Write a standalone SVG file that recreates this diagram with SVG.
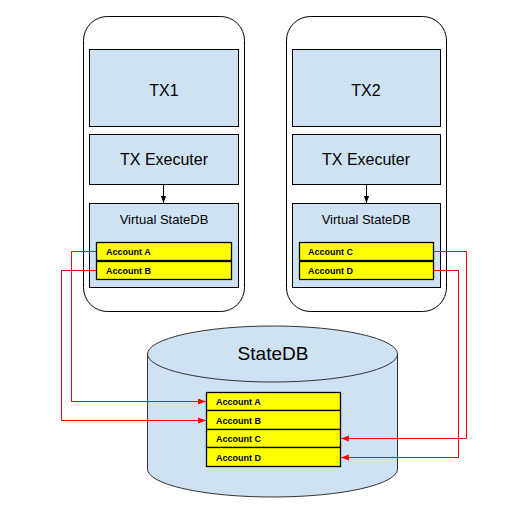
<svg xmlns="http://www.w3.org/2000/svg" width="524" height="522" viewBox="0 0 524 522">
<defs>
<style>
.frame{fill:#fff;stroke:#000;stroke-width:1}
.box{fill:#cfe2f3;stroke:#000;stroke-width:1}
.acc{fill:#ffff00;stroke:#000;stroke-width:1.3}
.t{font-family:"Liberation Sans",Arial,sans-serif;fill:#000}
.big{font-size:16px;text-anchor:middle}
.mid{font-size:13px;text-anchor:middle}
.at{font-size:9px;font-weight:bold}
.red{fill:none;stroke:#ff0000;stroke-width:1}
.blk{fill:none;stroke:#000;stroke-width:1}
</style>
<marker id="ar" viewBox="0 0 8 8" refX="8" refY="4" markerWidth="8" markerHeight="8" markerUnits="userSpaceOnUse" orient="auto">
<path d="M0,1 L8,4 L0,7 Z" fill="#ff0000"/>
</marker>
<marker id="ab" viewBox="0 0 8 8" refX="8" refY="4" markerWidth="7" markerHeight="7" markerUnits="userSpaceOnUse" orient="auto">
<path d="M0,1 L8,4 L0,7 Z" fill="#000"/>
</marker>
</defs>
<rect width="524" height="522" fill="#fff"/>

<g id="tx1-group">
<rect class="frame" x="83.5" y="16.5" width="161" height="295" rx="24"/>
<g id="tx1"><rect class="box" x="89.5" y="49.5" width="149" height="77"/><text class="t big" x="164" y="96">TX1</text></g>
<g id="exec1"><rect class="box" x="89.5" y="134.5" width="149" height="50"/><text class="t big" x="164" y="165">TX Executer</text></g>
<g id="vsdb1"><rect class="box" x="89.5" y="203.5" width="149" height="84"/><text class="t mid" x="164" y="224">Virtual StateDB</text></g>
<g id="v-acc-a"><rect class="acc" x="96.5" y="242.5" width="135" height="18"/><text class="t at" x="106" y="254.5">Account A</text></g>
<g id="v-acc-b"><rect class="acc" x="96.5" y="261.5" width="135" height="18"/><text class="t at" x="106" y="273.5">Account B</text></g>
</g>

<g id="tx2-group">
<rect class="frame" x="286.5" y="16.5" width="160" height="295" rx="24"/>
<g id="tx2"><rect class="box" x="292.5" y="49.5" width="148" height="77"/><text class="t big" x="366" y="96">TX2</text></g>
<g id="exec2"><rect class="box" x="292.5" y="134.5" width="148" height="50"/><text class="t big" x="366" y="165">TX Executer</text></g>
<g id="vsdb2"><rect class="box" x="292.5" y="203.5" width="148" height="84"/><text class="t mid" x="366" y="224">Virtual StateDB</text></g>
<g id="v-acc-c"><rect class="acc" x="299.5" y="242.5" width="134" height="18"/><text class="t at" x="308" y="254.5">Account C</text></g>
<g id="v-acc-d"><rect class="acc" x="299.5" y="261.5" width="134" height="18"/><text class="t at" x="308" y="273.5">Account D</text></g>
</g>

<g id="statedb">
<path d="M147.5,354 L147.5,469 A125,28 0 0 0 397.5,469 L397.5,354" fill="#cfe2f3" stroke="#333" stroke-width="1"/>
<ellipse cx="272.5" cy="354" rx="125" ry="28" fill="#cfe2f3" stroke="#333" stroke-width="1"/>
<text class="t" x="273" y="360" font-size="19" text-anchor="middle">StateDB</text>
<g id="s-acc-a"><rect class="acc" x="206.5" y="392.5" width="134" height="18"/><text class="t at" x="216" y="405">Account A</text></g>
<g id="s-acc-b"><rect class="acc" x="206.5" y="410.5" width="134" height="19"/><text class="t at" x="216" y="424">Account B</text></g>
<g id="s-acc-c"><rect class="acc" x="206.5" y="429.5" width="134" height="18"/><text class="t at" x="216" y="442">Account C</text></g>
<g id="s-acc-d"><rect class="acc" x="206.5" y="447.5" width="134" height="19"/><text class="t at" x="216" y="461">Account D</text></g>
</g>

<g id="connectors">
<line class="blk" x1="163.5" y1="184" x2="163.5" y2="203" marker-end="url(#ab)"/>
<line class="blk" x1="366.5" y1="184" x2="366.5" y2="203" marker-end="url(#ab)"/>
<polyline class="red" points="96,251.5 71.5,251.5 71.5,401.5 206,401.5" marker-end="url(#ar)"/>
<polyline class="red" points="96,270.5 61.5,270.5 61.5,420.5 206,420.5" marker-end="url(#ar)"/>
<polyline class="red" points="434,251.5 466.5,251.5 466.5,438.5 341,438.5" marker-end="url(#ar)"/>
<polyline class="red" points="434,270.5 458.5,270.5 458.5,457.5 341,457.5" marker-end="url(#ar)"/>
</g>
</svg>
